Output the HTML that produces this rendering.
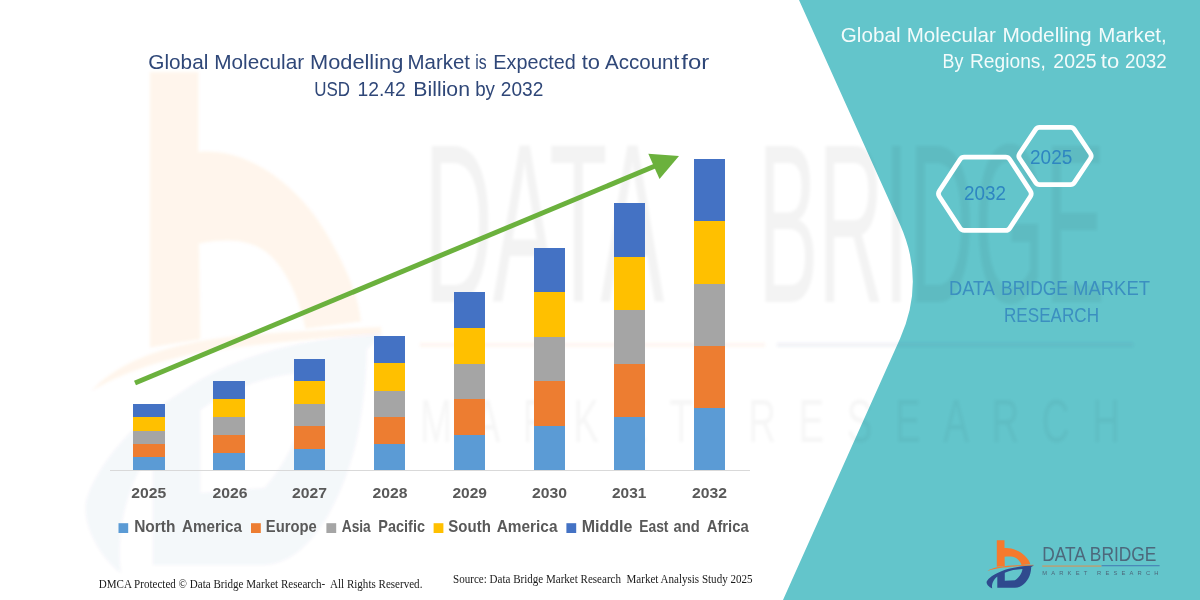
<!DOCTYPE html>
<html lang="en">
<head>
<meta charset="utf-8">
<title>Global Molecular Modelling Market</title>
<style>
html,body{margin:0;padding:0;background:#ffffff;}
body{width:1200px;height:600px;overflow:hidden;font-family:"Liberation Sans",sans-serif;}
svg{display:block;}
.cal{font-family:"Liberation Sans",sans-serif;}
.ser{font-family:"Liberation Serif",serif;}
.bold{font-family:"Liberation Sans",sans-serif;font-weight:bold;fill:#595959;}
</style>
</head>
<body>
<svg width="1200" height="600" viewBox="0 0 1200 600">
  <rect width="1200" height="600" fill="#ffffff"/>

  <!-- faint watermark (left) -->
  

  <!-- teal panel -->
  <path id="panel" d="M799,0 L900,224.4 Q925.6,281.4 900.1,338.4 L783,600 L1200,600 L1200,0 Z" fill="#63c5cb"/>

  <!-- faint watermark (right) -->
  <defs>
    <filter id="wmblur" x="-5%" y="-5%" width="110%" height="110%"><feGaussianBlur stdDeviation="1.8"/></filter>
  </defs>
  <g id="watermark" filter="url(#wmblur)">
    <g transform="translate(85,74) scale(6.3,10.4) translate(-986.5,-540.5)" opacity="0.075">
      <path fill="#f57a2e" d="M996.8,540.3 L1004.5,540.3 L1004.5,548 C1012,547.5 1020,551 1024.5,555.5 C1028,559 1030,562 1030.3,564.3 L1021.5,565 C1020.5,562 1018.5,559.5 1016,558 C1013,556.3 1009,556.3 1004.6,556.8 L1004.8,566 L996.8,566.8 Z"/>
      <path fill="#f57a2e" d="M987.5,571 C992,568 1000,566.3 1012,565.6 C1020,565.2 1028,565 1033.5,564.8 L1033.5,565.5 C1025,565.8 1012,566.5 1003,567.5 C996,568.5 991,569.7 987.5,571 Z"/>
    </g>
    <g transform="translate(85,74) scale(6.3,10.4) translate(-986.5,-540.5)" opacity="0.045">
      <path fill="#2f4a8e" fill-rule="evenodd" d="M1033.8,565.4 C1022,565.8 1010,567.5 1002,571 C994,574 988.5,578 986.7,581.5 C986,584 989,587 992.2,588.5 C991.3,584 993.5,579.5 997.3,576.5 L997.3,587.7 L1015,587.7 C1022,587.5 1027,582 1029.5,576 C1030.8,572.5 1031.2,569 1031.2,567 Z M1004.8,572.8 C1010,570.5 1016,569.4 1022.4,569.1 C1022.3,572 1020,577 1015,580.3 L1004.8,580.8 Z"/>
    </g>
    <g font-family="'Liberation Sans',sans-serif" fill="#202428">
      <text transform="translate(424,302) scale(1,1.6)" font-size="141.5" textLength="240" lengthAdjust="spacingAndGlyphs" opacity="0.046">DATA</text>
      <text transform="translate(758,302) scale(1,1.6)" font-size="141.5" textLength="347" lengthAdjust="spacingAndGlyphs" opacity="0.046">BRIDGE</text>
      <text transform="translate(420,442) scale(0.62,1)" font-size="62" textLength="1129" lengthAdjust="spacing" opacity="0.035">MARKET RESEARCH</text>
    </g>
    <rect x="420" y="343" width="345" height="3.5" fill="#f57a2e" opacity="0.08"/>
    <rect x="777" y="343" width="356" height="3.5" fill="#2f4a8e" opacity="0.08"/>
  </g>


  <!-- axis line -->
  <rect x="110" y="470" width="640" height="1" fill="#d9d9d9"/>

  <!-- bars -->
  <g id="bars" shape-rendering="crispEdges">
    <rect x="133" y="404" width="32" height="13" fill="#4472c4"/>
    <rect x="133" y="417" width="32" height="14" fill="#ffc000"/>
    <rect x="133" y="431" width="32" height="13" fill="#a5a5a5"/>
    <rect x="133" y="444" width="32" height="13" fill="#ed7d31"/>
    <rect x="133" y="457" width="32" height="13" fill="#5b9bd5"/>
    <rect x="213" y="381" width="32" height="18" fill="#4472c4"/>
    <rect x="213" y="399" width="32" height="18" fill="#ffc000"/>
    <rect x="213" y="417" width="32" height="18" fill="#a5a5a5"/>
    <rect x="213" y="435" width="32" height="18" fill="#ed7d31"/>
    <rect x="213" y="453" width="32" height="17" fill="#5b9bd5"/>
    <rect x="294" y="359" width="31" height="22" fill="#4472c4"/>
    <rect x="294" y="381" width="31" height="23" fill="#ffc000"/>
    <rect x="294" y="404" width="31" height="22" fill="#a5a5a5"/>
    <rect x="294" y="426" width="31" height="23" fill="#ed7d31"/>
    <rect x="294" y="449" width="31" height="21" fill="#5b9bd5"/>
    <rect x="374" y="336" width="31" height="27" fill="#4472c4"/>
    <rect x="374" y="363" width="31" height="28" fill="#ffc000"/>
    <rect x="374" y="391" width="31" height="26" fill="#a5a5a5"/>
    <rect x="374" y="417" width="31" height="27" fill="#ed7d31"/>
    <rect x="374" y="444" width="31" height="26" fill="#5b9bd5"/>
    <rect x="454" y="292" width="31" height="36" fill="#4472c4"/>
    <rect x="454" y="328" width="31" height="36" fill="#ffc000"/>
    <rect x="454" y="364" width="31" height="35" fill="#a5a5a5"/>
    <rect x="454" y="399" width="31" height="36" fill="#ed7d31"/>
    <rect x="454" y="435" width="31" height="35" fill="#5b9bd5"/>
    <rect x="534" y="248" width="31" height="44" fill="#4472c4"/>
    <rect x="534" y="292" width="31" height="45" fill="#ffc000"/>
    <rect x="534" y="337" width="31" height="44" fill="#a5a5a5"/>
    <rect x="534" y="381" width="31" height="45" fill="#ed7d31"/>
    <rect x="534" y="426" width="31" height="44" fill="#5b9bd5"/>
    <rect x="614" y="203" width="31" height="54" fill="#4472c4"/>
    <rect x="614" y="257" width="31" height="53" fill="#ffc000"/>
    <rect x="614" y="310" width="31" height="54" fill="#a5a5a5"/>
    <rect x="614" y="364" width="31" height="53" fill="#ed7d31"/>
    <rect x="614" y="417" width="31" height="53" fill="#5b9bd5"/>
    <rect x="694" y="159" width="31" height="62" fill="#4472c4"/>
    <rect x="694" y="221" width="31" height="63" fill="#ffc000"/>
    <rect x="694" y="284" width="31" height="62" fill="#a5a5a5"/>
    <rect x="694" y="346" width="31" height="62" fill="#ed7d31"/>
    <rect x="694" y="408" width="31" height="62" fill="#5b9bd5"/>
  </g>

  <!-- arrow -->
  <g id="arrow" fill="#6bb13d" stroke="none">
    <line x1="135" y1="383" x2="655" y2="166" stroke="#6bb13d" stroke-width="5"/>
    <polygon points="648.3,153.8 679,156 659.5,179"/>
  </g>

  <!-- title -->
  <g class="cal" font-size="19.3" fill="#2f4778">
    <text y="68.6"><tspan x="148.3" textLength="60.0" lengthAdjust="spacingAndGlyphs">Global</tspan> <tspan x="214.2" textLength="90.0" lengthAdjust="spacingAndGlyphs">Molecular</tspan> <tspan x="310.0" textLength="93.3" lengthAdjust="spacingAndGlyphs">Modelling</tspan> <tspan x="407.5" textLength="62.5" lengthAdjust="spacingAndGlyphs">Market</tspan> <tspan x="475.3" textLength="11.4" lengthAdjust="spacingAndGlyphs">is</tspan> <tspan x="493.3" textLength="82.5" lengthAdjust="spacingAndGlyphs">Expected</tspan> <tspan x="581.7" textLength="18.3" lengthAdjust="spacingAndGlyphs">to</tspan> <tspan x="605.0" textLength="74.2" lengthAdjust="spacingAndGlyphs">Account</tspan> <tspan x="681.3" textLength="27.9" lengthAdjust="spacingAndGlyphs">for</tspan></text>
    <text y="96.3"><tspan x="314.2" textLength="35.8" lengthAdjust="spacingAndGlyphs">USD</tspan> <tspan x="357.5" textLength="48.3" lengthAdjust="spacingAndGlyphs">12.42</tspan> <tspan x="413.3" textLength="56.7" lengthAdjust="spacingAndGlyphs">Billion</tspan> <tspan x="475.2" textLength="19.8" lengthAdjust="spacingAndGlyphs">by</tspan> <tspan x="500.8" textLength="42.5" lengthAdjust="spacingAndGlyphs">2032</tspan></text>
  </g>

  <!-- year labels -->
  <g class="bold" font-size="14.9">
    <text x="131.3" y="498.3" textLength="35.0" lengthAdjust="spacingAndGlyphs">2025</text>
    <text x="212.5" y="498.3" textLength="35.0" lengthAdjust="spacingAndGlyphs">2026</text>
    <text x="292" y="498.3" textLength="35.0" lengthAdjust="spacingAndGlyphs">2027</text>
    <text x="372.5" y="498.3" textLength="35.0" lengthAdjust="spacingAndGlyphs">2028</text>
    <text x="452.5" y="498.3" textLength="34.5" lengthAdjust="spacingAndGlyphs">2029</text>
    <text x="532" y="498.3" textLength="35.0" lengthAdjust="spacingAndGlyphs">2030</text>
    <text x="612" y="498.3" textLength="34.3" lengthAdjust="spacingAndGlyphs">2031</text>
    <text x="692" y="498.3" textLength="35.0" lengthAdjust="spacingAndGlyphs">2032</text>
  </g>

  <!-- legend -->
  <g id="legend">
    <rect x="118.5" y="523.2" width="9.7" height="9.8" fill="#5b9bd5"/>
    <rect x="251" y="523.2" width="9.8" height="9.8" fill="#ed7d31"/>
    <rect x="326.4" y="523.2" width="9.8" height="9.8" fill="#a5a5a5"/>
    <rect x="433.6" y="523.2" width="9.8" height="9.8" fill="#ffc000"/>
    <rect x="566.4" y="523.2" width="9.8" height="9.8" fill="#4472c4"/>
    <g class="bold" font-size="15.9">
      <text y="532.4"><tspan x="134.2" textLength="41.3" lengthAdjust="spacingAndGlyphs">North</tspan> <tspan x="182.0" textLength="60.0" lengthAdjust="spacingAndGlyphs">America</tspan></text>
      <text y="532.4"><tspan x="265.8" textLength="50.9" lengthAdjust="spacingAndGlyphs">Europe</tspan></text>
      <text y="532.4"><tspan x="341.7" textLength="29.1" lengthAdjust="spacingAndGlyphs">Asia</tspan> <tspan x="378.3" textLength="46.7" lengthAdjust="spacingAndGlyphs">Pacific</tspan></text>
      <text y="532.4"><tspan x="448.3" textLength="42.5" lengthAdjust="spacingAndGlyphs">South</tspan> <tspan x="496.7" textLength="60.8" lengthAdjust="spacingAndGlyphs">America</tspan></text>
      <text y="532.4"><tspan x="581.7" textLength="50.8" lengthAdjust="spacingAndGlyphs">Middle</tspan> <tspan x="639.2" textLength="29.3" lengthAdjust="spacingAndGlyphs">East</tspan> <tspan x="673.5" textLength="26.2" lengthAdjust="spacingAndGlyphs">and</tspan> <tspan x="706.7" textLength="42.0" lengthAdjust="spacingAndGlyphs">Africa</tspan></text>
    </g>
  </g>

  <!-- footer -->
  <g class="ser" font-size="12" fill="#1a1a1a">
    <text x="98.8" y="587.7" textLength="323.6" lengthAdjust="spacingAndGlyphs" xml:space="preserve">DMCA Protected © Data Bridge Market Research-  All Rights Reserved.</text>
    <text x="453.1" y="583.3" textLength="299.4" lengthAdjust="spacingAndGlyphs" xml:space="preserve">Source: Data Bridge Market Research  Market Analysis Study 2025</text>
  </g>

  <!-- right panel text -->
  <g class="cal" font-size="19.3" fill="#f3fbfb">
    <text y="41.7"><tspan x="840.8" textLength="59.7" lengthAdjust="spacingAndGlyphs">Global</tspan> <tspan x="906.7" textLength="89.1" lengthAdjust="spacingAndGlyphs">Molecular</tspan> <tspan x="1002.5" textLength="89.2" lengthAdjust="spacingAndGlyphs">Modelling</tspan> <tspan x="1098.3" textLength="68.4" lengthAdjust="spacingAndGlyphs">Market,</tspan></text>
    <text y="68.2"><tspan x="942.5" textLength="20.8" lengthAdjust="spacingAndGlyphs">By</tspan> <tspan x="970.0" textLength="75.8" lengthAdjust="spacingAndGlyphs">Regions,</tspan> <tspan x="1053.3" textLength="43.4" lengthAdjust="spacingAndGlyphs">2025</tspan> <tspan x="1100.8" textLength="18.4" lengthAdjust="spacingAndGlyphs">to</tspan> <tspan x="1125.0" textLength="41.7" lengthAdjust="spacingAndGlyphs">2032</tspan></text>
  </g>

  <!-- hexagons -->
  <g id="hex" fill="none" stroke="#ffffff" stroke-width="4.7">
    <path d="M939.3,196.5 A5,5 0 0 1 939.3,191.1 L960.0,159.5 A5,5 0 0 1 964.2,157.2 L1005.6,157.2 A5,5 0 0 1 1009.8,159.5 L1030.4,191.1 A5,5 0 0 1 1030.4,196.5 L1009.8,228.1 A5,5 0 0 1 1005.6,230.4 L964.2,230.4 A5,5 0 0 1 960.0,228.1 Z"/>
    <path d="M1019.6,158.5 A4.5,4.5 0 0 1 1019.6,153.5 L1035.7,129.4 A4.5,4.5 0 0 1 1039.4,127.4 L1070.6,127.4 A4.5,4.5 0 0 1 1074.3,129.4 L1090.4,153.5 A4.5,4.5 0 0 1 1090.4,158.5 L1074.3,182.6 A4.5,4.5 0 0 1 1070.6,184.6 L1039.4,184.6 A4.5,4.5 0 0 1 1035.7,182.6 Z"/>
  </g>
  <g class="cal" font-size="19.3" fill="#2e86c1">
    <text x="964" y="199.6" textLength="42" lengthAdjust="spacingAndGlyphs">2032</text>
    <text x="1030" y="163.7" textLength="42.3" lengthAdjust="spacingAndGlyphs">2025</text>
  </g>

  <g class="cal" font-size="19.3" fill="#3b8fc0">
    <text y="295.4"><tspan x="949.0" textLength="45.0" lengthAdjust="spacingAndGlyphs">DATA</tspan> <tspan x="1001.0" textLength="67.0" lengthAdjust="spacingAndGlyphs">BRIDGE</tspan> <tspan x="1073.0" textLength="77.0" lengthAdjust="spacingAndGlyphs">MARKET</tspan></text>
    <text x="1004" y="322" textLength="95" lengthAdjust="spacingAndGlyphs">RESEARCH</text>
  </g>

  <!-- logo -->
  <g id="logo">
    <g id="logo-icon">
      <g id="logo-orange">
      <path fill="#f57a2e" d="M996.8,540.3 L1004.5,540.3 L1004.5,548 C1012,547.5 1020,551 1024.5,555.5 C1028,559 1030,562 1030.3,564.3 L1021.5,565 C1020.5,562 1018.5,559.5 1016,558 C1013,556.3 1009,556.3 1004.6,556.8 L1004.8,566 L996.8,566.8 Z"/>
      <path fill="#f57a2e" d="M987.5,571 C992,568 1000,566.3 1012,565.6 C1020,565.2 1028,565 1033.5,564.8 L1033.5,565.5 C1025,565.8 1012,566.5 1003,567.5 C996,568.5 991,569.7 987.5,571 Z"/>
      </g>
      <path id="logo-blue" fill="#2f4a8e" fill-rule="evenodd" d="M1033.8,565.4 C1022,565.8 1010,567.5 1002,571 C994,574 988.5,578 986.7,581.5 C986,584 989,587 992.2,588.5 C991.3,584 993.5,579.5 997.3,576.5 L997.3,587.7 L1015,587.7 C1022,587.5 1027,582 1029.5,576 C1030.8,572.5 1031.2,569 1031.2,567 Z M1004.8,572.8 C1010,570.5 1016,569.4 1022.4,569.1 C1022.3,572 1020,577 1015,580.3 L1004.8,580.8 Z"/>
    </g>
    <g font-family="'Liberation Sans',sans-serif" fill="#4d687c">
      <text x="1042.2" y="561.3" font-size="20.6" textLength="114.2" lengthAdjust="spacingAndGlyphs">DATA BRIDGE</text>
      <text x="1042.2" y="575.3" font-size="5.8" textLength="116.3" lengthAdjust="spacing" fill="#4d687c">MARKET RESEARCH</text>
    </g>
    <rect x="1042.2" y="565.6" width="59.2" height="0.9" fill="#f0883e"/>
    <rect x="1101.6" y="565.3" width="58" height="0.9" fill="#3f6fb0"/>
  </g>

</svg>
</body>
</html>
